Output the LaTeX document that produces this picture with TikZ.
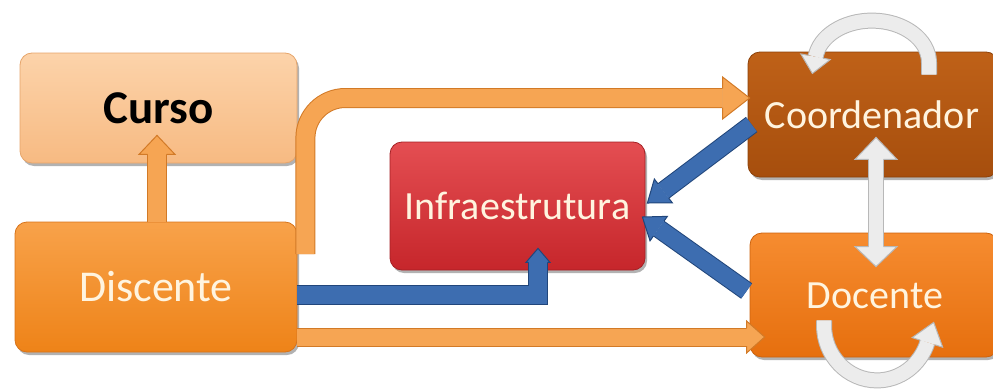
\documentclass[tikz,border=0pt]{standalone}
\usepackage{fontspec}
\setmainfont{Carlito}
\usetikzlibrary{calc,shadows}
\definecolor{CurT}{HTML}{FCD3AA}
\definecolor{CurB}{HTML}{F7BA82}
\definecolor{CurL}{HTML}{E6A56B}
\definecolor{DisT}{HTML}{F8A24A}
\definecolor{DisB}{HTML}{EE8318}
\definecolor{DisL}{HTML}{D7731A}
\definecolor{InfT}{HTML}{E44E52}
\definecolor{InfB}{HTML}{C6262B}
\definecolor{InfL}{HTML}{A52024}
\definecolor{CooT}{HTML}{BF6118}
\definecolor{CooB}{HTML}{A64E0D}
\definecolor{CooL}{HTML}{8C4109}
\definecolor{DocT}{HTML}{F68C30}
\definecolor{DocB}{HTML}{E66F0E}
\definecolor{DocL}{HTML}{CC630E}
\definecolor{Cream}{HTML}{FFF4DF}
\definecolor{OrF}{HTML}{F6A553}
\definecolor{OrL}{HTML}{D27A27}
\definecolor{BlF}{HTML}{3D6DB0}
\definecolor{BlL}{HTML}{21467B}
\definecolor{WF}{HTML}{ECECEC}
\definecolor{WL}{HTML}{B8B8B8}
% block arrow head: fill, line, base, tip, half width, shaft half width
\newcommand{\bhead}[6]{%
  \fill[#1] ($(#3)!#5!90:(#4)$) -- (#4) -- ($(#3)!#5!-90:(#4)$) -- cycle;
  \draw[#2,line width=1pt,line join=miter] ($(#3)!#6!90:(#4)$) -- ($(#3)!#5!90:(#4)$) -- (#4) -- ($(#3)!#5!-90:(#4)$) -- ($(#3)!#6!-90:(#4)$);}
\begin{document}
\begin{tikzpicture}[x=1pt,y=-1pt,
  box/.style={draw, line width=0.8pt, rounded corners=12pt, inner sep=0pt,
    drop shadow={shadow xshift=2pt,shadow yshift=-3pt,opacity=0.3,fill=black}},
  lbl/.style={text=Cream, font=\fontsize{40}{48}\selectfont},
  oshaft/.style={draw=OrL, line width=1pt, double=OrF, double distance=18pt},
  bshaft/.style={draw=BlL, line width=1pt, double=BlF, double distance=18pt},
  wshaft/.style={draw=WL, line width=1pt, double=WF, double distance=14pt}]
\clip (0,0) rectangle (993,391);
% boxes
\node[box, top color=CurT, bottom color=CurB, draw=CurL, minimum width=277pt, minimum height=110pt,
  font=\bfseries\fontsize{47}{52}\selectfont] (curso) at (158.5,108) {Curso};
\node[box, lbl, top color=DisT, bottom color=DisB, draw=DisL, minimum width=282pt, minimum height=130pt,
  font=\fontsize{44}{50}\selectfont] (dis) at (156,287) {Discente};
\node[box, lbl, top color=InfT, bottom color=InfB, draw=InfL, minimum width=255pt, minimum height=128pt] (inf) at (517.5,206) {Infraestrutura};
\node[box, top color=CooT, bottom color=CooB, draw=CooL, minimum width=250pt, minimum height=125pt] (coo) at (873,114.5) {};
\node[lbl] (coot) at (872,115) {Coordenador};
\node[box, top color=DocT, bottom color=DocB, draw=DocL, minimum width=248pt, minimum height=124pt] (doc) at (874,295) {};
\node[lbl] (doct) at (875,296) {Docente};
% Discente -> Curso
\coordinate (a1s) at ($(dis.north)+(1,0)$);
\coordinate (a1t) at ($(curso.south)+(-1.5,-28)$);
\coordinate (a1b) at ($(a1t)!19pt!(a1s)$);
\draw[oshaft] (a1s) -- (a1b);
\bhead{OrF}{OrL}{a1b}{a1t}{18pt}{9.5pt}
% Discente -> Coordenador
\coordinate (a2s) at ($(dis.east)+(8,-33)$);
\coordinate (a2t) at ($(coo.west)+(2,-16.5)$);
\coordinate (a2b) at ($(a2t)+(-27,0)$);
\draw[oshaft, rounded corners=40pt] (a2s) |- (a2b);
\bhead{OrF}{OrL}{a2b}{a2t}{21pt}{9.5pt}
% Discente -> Infraestrutura
\coordinate (c1s) at ($(dis.east)+(0,8)$);
\coordinate (c1t) at ($(inf.south)+(20.5,-22)$);
\coordinate (c1b) at ($(c1t)+(0,14)$);
\draw[bshaft, line join=miter] (c1s) -| (c1b);
\bhead{BlF}{BlL}{c1b}{c1t}{12pt}{9.5pt}
% Coordenador -> Infraestrutura
\coordinate (b1s) at ($(coo.west)+(4,10)$);
\coordinate (b1t) at ($(inf.east)+(2,-3)$);
\coordinate (b1b) at ($(b1t)!20pt!(b1s)$);
\draw[bshaft, double distance=17pt] (b1s) -- (b1b);
\bhead{BlF}{BlL}{b1b}{b1t}{15pt}{9pt}
% Docente -> Infraestrutura
\coordinate (b2s) at ($(doc.west)+(-3,-4)$);
\coordinate (b2t) at ($(inf.east)+(-3,11)$);
\coordinate (b2b) at ($(b2t)!20pt!(b2s)$);
\draw[bshaft, double distance=17pt] (b2s) -- (b2b);
\bhead{BlF}{BlL}{b2b}{b2t}{15pt}{9pt}
% Discente -> Docente
\coordinate (a3s) at ($(dis.east)+(0,50)$);
\coordinate (a3t) at ($(doc.west)+(15,42)$);
\coordinate (a3b) at ($(a3t)+(-18,0)$);
\draw[oshaft, double distance=17pt] (a3s) -- (a3b);
\bhead{OrF}{OrL}{a3b}{a3t}{16pt}{9pt}
% Coordenador <-> Docente
\coordinate (w1) at ($(coo.south)+(3,-40)$);
\coordinate (w2) at ($(doc.north)+(2,34)$);
\coordinate (w1b) at ($(w1)!22pt!(w2)$);
\coordinate (w2b) at ($(w2)!20pt!(w1)$);
\draw[wshaft] (w1b) -- (w2b);
\bhead{WF}{WL}{w1b}{w1}{21pt}{7.5pt}
\bhead{WF}{WL}{w2b}{w2}{21pt}{7.5pt}
% Coordenador loop
\coordinate (t1) at ($(coo.north)+(56,23)$);
\draw[wshaft] (t1) -- ++(0,-12) arc[start angle=0,end angle=-172,x radius=57,y radius=42] coordinate (t2);
\coordinate (t3) at ($(t2)+(-3.2,16.7)$);
\bhead{WF}{WL}{t2}{t3}{15pt}{7.5pt}
% Docente loop
\coordinate (d1) at ($(doc.south)+(-50,-37)$);
\draw[wshaft] (d1) -- ++(0,5) arc[start angle=180,end angle=18,x radius=53,y radius=55] coordinate (d2);
\coordinate (d3) at ($(d2)+(6.3,-20)$);
\bhead{WF}{WL}{d2}{d3}{16pt}{7.5pt}
\end{tikzpicture}
\end{document}
